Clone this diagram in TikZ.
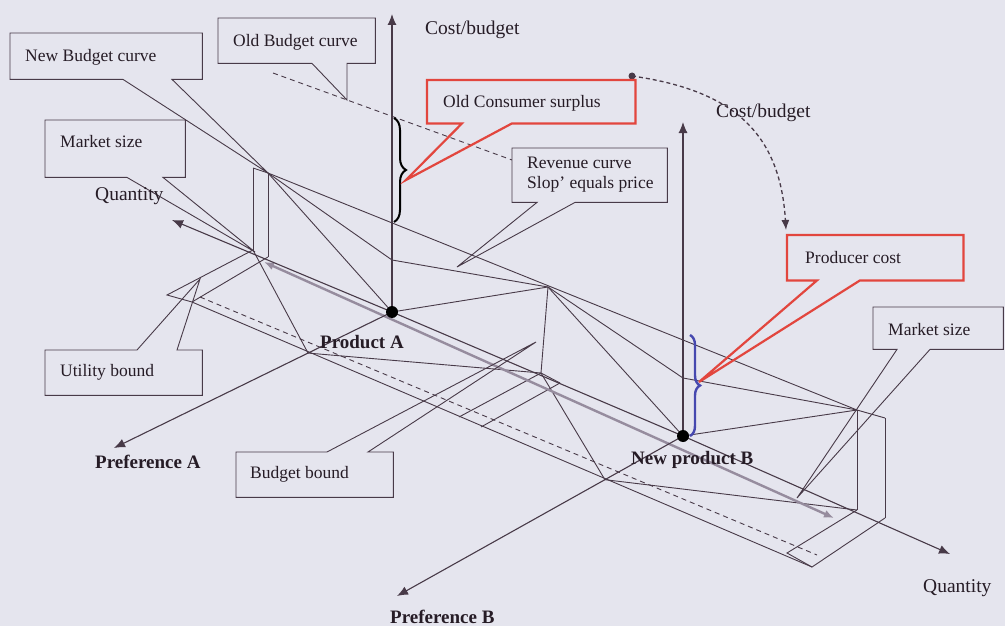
\documentclass[tikz,border=0pt]{standalone}
\usepackage{fontspec}
\setmainfont{Liberation Serif}
\usetikzlibrary{arrows.meta,decorations.pathreplacing,calc}
\definecolor{paper}{RGB}{229,229,238}
\definecolor{ink}{RGB}{72,58,72}
\definecolor{txt}{RGB}{38,28,38}
\definecolor{alert}{RGB}{226,70,62}
\definecolor{bracecol}{RGB}{70,72,175}
\definecolor{band}{RGB}{150,140,158}
\begin{document}
\begin{tikzpicture}[x=1pt,y=-1pt,
  every node/.style={inner sep=0pt, text=txt},
  ln/.style={draw=ink, line width=0.9pt},
  ax/.style={draw=ink, line width=1.1pt, -{Latex[length=11pt,width=9pt]}},
  dsh/.style={draw=ink, line width=0.9pt, dash pattern=on 5pt off 4pt},
  panel/.style 2 args={minimum width=#1, minimum height=#2, anchor=north west, fill=paper, draw=none},
  outline/.style={draw=ink, line width=0.9pt},
  redline/.style={draw=alert, line width=2.2pt},
  boxtxt/.style={font=\fontsize{17.5}{20}\selectfont, anchor=west},
  lbl/.style={font=\fontsize{19.5}{22}\selectfont, anchor=west},
  blbl/.style={font=\fontsize{19}{22}\selectfont\bfseries, anchor=west},
]
\fill[paper] (0,0) rectangle (1005,626);
\useasboundingbox (0,0) rectangle (1005,626);

% key points of the chart
\coordinate (QA) at (172,220);
\coordinate (QB) at (950,554);
\coordinate (PA) at (392,312);
\coordinate (PB) at (683,436);
\coordinate (CAt) at (392,14);
\coordinate (CBt) at (683,122);
\coordinate (PrA) at (114,448);
\coordinate (PrB) at (397,596);
\coordinate (FA) at ($(PA)!0.302!(PrA)$);
\coordinate (FB) at ($(PB)!0.273!(PrB)$);
\coordinate (D1) at (268,173);
\coordinate (D1s) at (253,168);
\coordinate (B1) at (253,250);
\coordinate (B1s) at (268,257);
\coordinate (D2) at (548,287);
\coordinate (B2) at (541,373);
\coordinate (B2s) at (560,383);
\coordinate (D3) at (857,410);
\coordinate (D3s) at (885,418);
\coordinate (B3) at (857,510);
\coordinate (B3s) at (885,518);
\coordinate (R1) at (392,260);
\coordinate (R2) at (683,378);
\coordinate (L1) at (167,295);
\coordinate (L2) at (192,302);
\coordinate (M1) at (459,417);
\coordinate (M2) at (481,427);
\coordinate (E1) at (787,553);
\coordinate (E2) at (812,567);
\coordinate (G1) at (264,262);
\coordinate (G2) at (834,518);
\coordinate (OB1) at (273,73);
\coordinate (OB2) at (512,160);
\coordinate (OBt) at (347,100);
\coordinate (U1) at (200,297);
\coordinate (U2) at (817,555);

% floor
\draw[ln] (B1) -- (L1) -- (L2) -- (B1s);
\draw[ln] (B2) -- (M1);
\draw[ln] (B2s) -- (M2);
\draw[ln] (B2) -- (B2s);
\draw[ln] (B3) -- (E1) -- (E2) -- (B3s);
\draw[ln] (L2) -- (E2);
\draw[dsh] (U1) -- (U2);
\draw[ln] (B1) -- (FA) -- (B2) -- (FB) -- (B3);

% market size bars
\draw[ln] (D1s) -- (B1);
\draw[ln] (D1) -- (B1s);
\draw[ln] (D1s) -- (D1);
\draw[ln] (D2) -- (B2);
\draw[ln] (D3) -- (B3);
\draw[ln] (D3s) -- (B3s);

% curves
\draw[ln] (D1) -- (PA) -- (D2) -- (PB) -- (D3);
\draw[ln] (D1) -- (R1) -- (D2) -- (R2) -- (D3);
\draw[ln] (D1) -- (D3) -- (D3s);
\draw[dsh] (OB1) -- (OB2);

% quantity band
\draw[band, line width=2.4pt, {Latex[length=10pt,width=8pt]}-{Latex[length=10pt,width=8pt]}] (G1) -- (G2);

% axes
\draw[ax, {Latex[length=11pt,width=9pt]}-{Latex[length=11pt,width=9pt]}] (QA) -- (PA) -- (PB) -- (QB);
\draw[ax] (PA) -- (CAt);
\draw[ax] (PB) -- (CBt);
\draw[ax] (PA) -- (PrA);
\draw[ax] (PB) -- (PrB);
\fill[black] (PA) circle (6pt);
\fill[black] (PB) circle (6pt);

% braces
\draw[decorate, decoration={brace, amplitude=12pt}, line width=2pt, black] (394,118) -- (394,222);
\draw[decorate, decoration={brace, amplitude=10pt}, line width=2.4pt, bracecol] (690,335) -- (690,436);

% dashed link between the two cost axes
\coordinate (S0) at (632,76);
\coordinate (S1) at (786,230);
\fill[ink] (S0) circle (3.5pt);
\draw[ink, line width=1.3pt, dash pattern=on 4pt off 3pt, -{Latex[length=10pt,width=8pt]}] (S0) .. controls (730,90) and (780,130) .. (S1);

% callout boxes
\node[panel={192pt}{46pt}] (nbc) at (10,33) {};
\draw[outline] (nbc.north west) -- (nbc.north east) -- (nbc.south east) -- ([xshift=162pt]nbc.south west) -- (D1) -- ([xshift=113pt]nbc.south west) -- (nbc.south west) -- cycle;
\node[boxtxt] (nbct) at (25,57) {New Budget curve};

\node[panel={157pt}{45pt}] (obc) at (218,18) {};
\draw[outline] (obc.north west) -- (obc.north east) -- (obc.south east) -- ([xshift=129pt]obc.south west) -- (OBt) -- ([xshift=94pt]obc.south west) -- (obc.south west) -- cycle;
\node[boxtxt] (obct) at (233,42) {Old Budget curve};

\coordinate (OCt) at (406,180);
\node[panel={208pt}{43pt}] (ocs) at (427,80) {};
\draw[redline] (ocs.north west) -- (ocs.north east) -- (ocs.south east) -- ([xshift=85pt]ocs.south west) -- (OCt) -- ([xshift=35pt]ocs.south west) -- (ocs.south west) -- cycle;
\node[boxtxt] (ocst) at (443,103) {Old Consumer surplus};

\coordinate (MLt) at (255,252);
\node[panel={140pt}{57pt}] (msl) at (45,120) {};
\draw[outline] (msl.north west) -- (msl.north east) -- (msl.south east) -- ([xshift=118pt]msl.south west) -- (MLt) -- ([xshift=82pt]msl.south west) -- (msl.south west) -- cycle;
\node[boxtxt] (mslt) at (60,142) {Market size};

\coordinate (RVt) at (457,267);
\node[panel={155pt}{54pt}] (rev) at (512,148) {};
\draw[outline] (rev.north west) -- (rev.north east) -- (rev.south east) -- ([xshift=63pt]rev.south west) -- (RVt) -- ([xshift=25pt]rev.south west) -- (rev.south west) -- cycle;
\node[boxtxt, align=left] (revt) at (527,175) {Revenue curve\\Slop' equals price};

\coordinate (PCt) at (699,382);
\node[panel={176pt}{45pt}] (pc) at (787,235) {};
\draw[redline] (pc.north west) -- (pc.north east) -- (pc.south east) -- ([xshift=73pt]pc.south west) -- (PCt) -- ([xshift=30pt]pc.south west) -- (pc.south west) -- cycle;
\node[boxtxt] (pct) at (805,258) {Producer cost};

\coordinate (MRt) at (797,498);
\node[panel={130pt}{42pt}] (msr) at (873,307) {};
\draw[outline] (msr.north west) -- (msr.north east) -- (msr.south east) -- ([xshift=57pt]msr.south west) -- (MRt) -- ([xshift=24pt]msr.south west) -- (msr.south west) -- cycle;
\node[boxtxt] (msrt) at (888,330) {Market size};

\coordinate (UBt) at (200,279);
\node[panel={157pt}{45pt}] (ub) at (45,350) {};
\draw[outline] (ub.north west) -- ([xshift=92pt]ub.north west) -- (UBt) -- ([xshift=132pt]ub.north west) -- (ub.north east) -- (ub.south east) -- (ub.south west) -- cycle;
\node[boxtxt] (ubt) at (60,372) {Utility bound};

\coordinate (BBt) at (536,342);
\node[panel={157pt}{45pt}] (bb) at (236,452) {};
\draw[outline] (bb.north west) -- ([xshift=91pt]bb.north west) -- (BBt) -- ([xshift=132pt]bb.north west) -- (bb.north east) -- (bb.south east) -- (bb.south west) -- cycle;
\node[boxtxt] (bbt) at (250,474) {Budget bound};

% axis labels
\node[lbl] (cba) at (425,30) {Cost/budget};
\node[lbl] (cbb) at (716,113) {Cost/budget};
\node[lbl] (qul) at (95,196) {Quantity};
\node[lbl] (qlr) at (923,588) {Quantity};
\node[blbl] (pra) at (320,342) {Product A};
\node[blbl] (prb) at (631,460) {New product B};
\node[blbl] (pfa) at (95,462) {Preference A};
\node[blbl] (pfb) at (390,617) {Preference B};
\end{tikzpicture}
\end{document}
